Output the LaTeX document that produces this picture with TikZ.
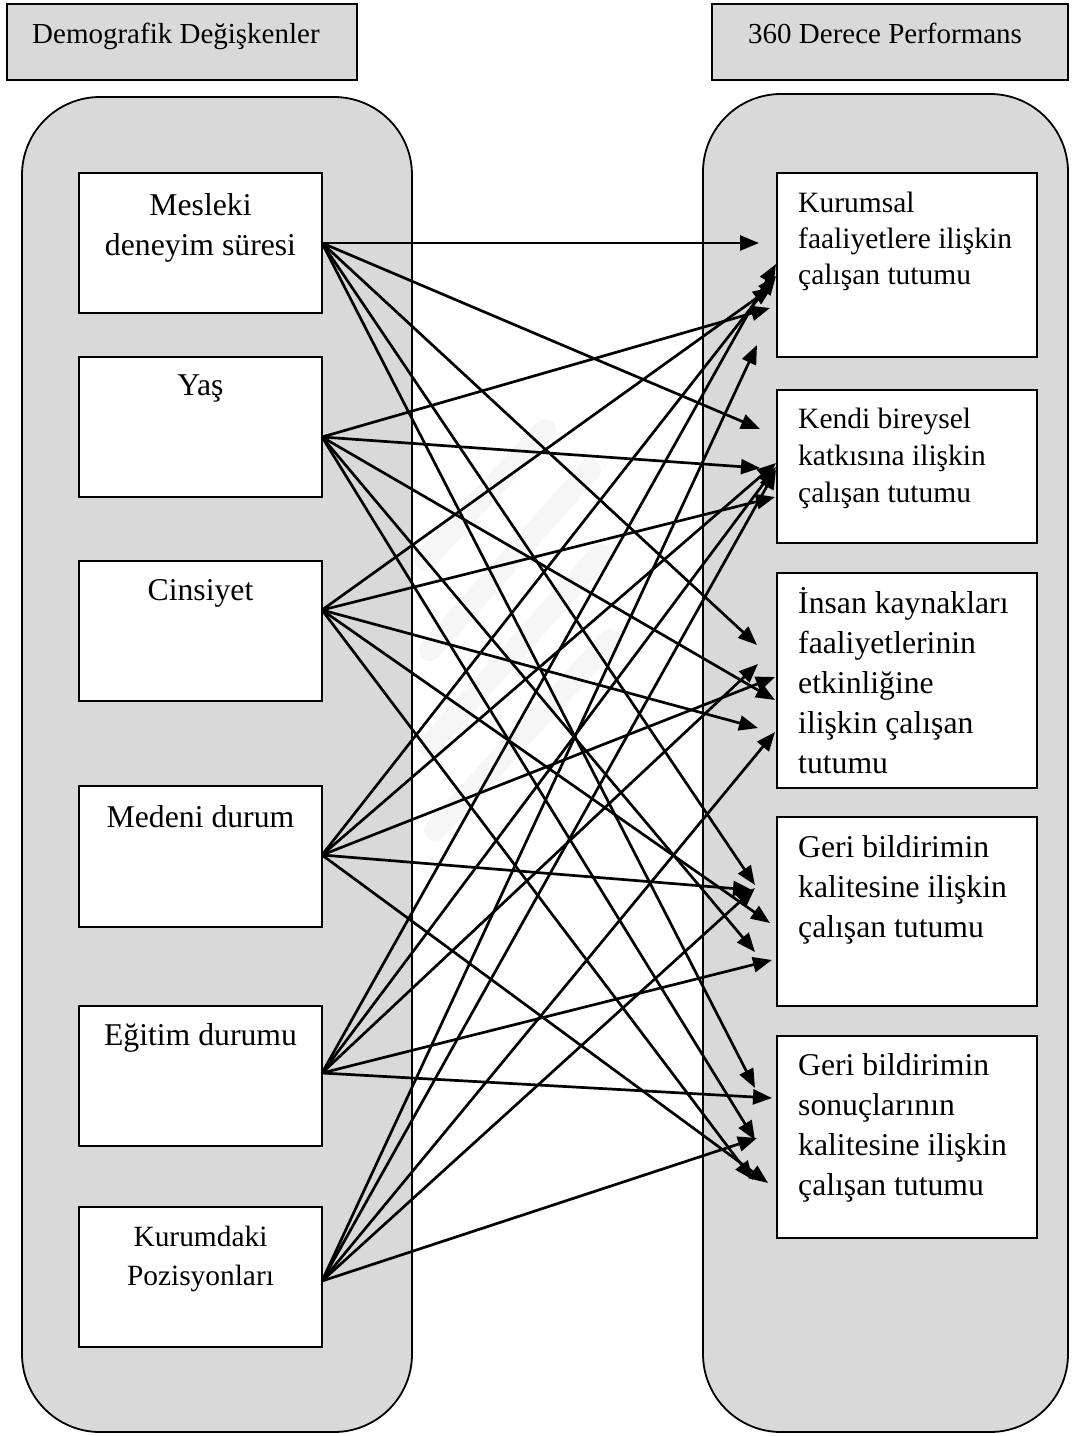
\documentclass[tikz,border=0pt]{standalone}
\usepackage{fontspec}
\setmainfont{Liberation Serif}
\usetikzlibrary{arrows.meta}
\definecolor{panelgray}{HTML}{D9D9D9}
\definecolor{wmgray}{HTML}{F6F6F6}
\begin{document}
\begin{tikzpicture}[x=1pt,y=-1pt,
  panel/.style={draw=black, line width=1.8pt, fill=panelgray, rounded corners=78pt},
  hdrbox/.style={draw=black, line width=1.8pt, fill=panelgray, inner sep=0pt},
  whitebox/.style={draw=black, line width=1.8pt, fill=white, inner sep=0pt},
  hdrtext/.style={inner sep=0pt, anchor=base west, font=\fontsize{29}{35}\selectfont},
  ltext/.style={inner sep=0pt, anchor=north, align=center, font=\fontsize{31.7}{40}\selectfont},
  rtext/.style={inner sep=0pt, anchor=north west, align=left},
  arr/.style={line width=2.7pt, -{Triangle[length=19pt,width=15pt]}},
  wmband/.style={draw=wmgray, line width=22pt, line cap=round}
]
\useasboundingbox (0,0) rectangle (1072,1436);
\fill[white] (0,0) rectangle (1072,1436);

% panels
\draw[panel] (22,97) rectangle (412,1432);
\draw[panel] (703,94) rectangle (1068,1432);

% faint watermark
\draw[wmband] (425,560) -- (545,430);
\draw[wmband] (430,650) -- (590,470);
\draw[wmband] (430,745) -- (600,555);
\draw[wmband] (435,830) -- (610,640);

% header boxes
\node[hdrbox, minimum width=350pt, minimum height=76pt] (H1) at (182,42) {};
\node[hdrbox, minimum width=356pt, minimum height=76pt] (H2) at (890,42) {};
\node[hdrtext] (H1t) at (32,43) {Demografik Değişkenler};
\node[hdrtext] (H2t) at (748,43) {360 Derece Performans};

% left boxes
\node[whitebox, minimum width=243pt, minimum height=140pt] (L1) at (200.5,243) {};
\node[whitebox, minimum width=243pt, minimum height=140pt] (L2) at (200.5,427) {};
\node[whitebox, minimum width=243pt, minimum height=140pt] (L3) at (200.5,631) {};
\node[whitebox, minimum width=243pt, minimum height=141pt] (L4) at (200.5,856.5) {};
\node[whitebox, minimum width=243pt, minimum height=140pt] (L5) at (200.5,1076) {};
\node[whitebox, minimum width=243pt, minimum height=140pt] (L6) at (200.5,1277) {};

\node[ltext] (L1t) at (200.5,187) {\strut Mesleki\\deneyim süresi};
\node[ltext] (L2t) at (200.5,367) {\strut Yaş};
\node[ltext] (L3t) at (200.5,572) {\strut Cinsiyet};
\node[ltext] (L4t) at (200.5,799) {\strut Medeni durum};
\node[ltext] (L5t) at (200.5,1017) {\strut Eğitim durumu};
\node[ltext, font=\fontsize{29.4}{39}\selectfont] (L6t) at (200.5,1218.7) {\strut Kurumdaki\\Pozisyonları};

% right boxes
\node[whitebox, minimum width=260pt, minimum height=184pt] (R1) at (907,265) {};
\node[whitebox, minimum width=260pt, minimum height=153pt] (R2) at (907,466.5) {};
\node[whitebox, minimum width=260pt, minimum height=215pt] (R3) at (907,680.5) {};
\node[whitebox, minimum width=260pt, minimum height=189pt] (R4) at (907,911.5) {};
\node[whitebox, minimum width=260pt, minimum height=202pt] (R5) at (907,1137) {};

\node[rtext, font=\fontsize{29.5}{36}\selectfont] (R1t) at (798,186.8) {\strut Kurumsal\\faaliyetlere ilişkin\\çalışan tutumu};
\node[rtext, font=\fontsize{29.5}{37}\selectfont] (R2t) at (798,402.1) {\strut Kendi bireysel\\katkısına ilişkin\\çalışan tutumu};
\node[rtext, font=\fontsize{31.7}{40}\selectfont] (R3t) at (798,585) {\strut İnsan kaynakları\\faaliyetlerinin\\etkinliğine\\ilişkin çalışan\\tutumu};
\node[rtext, font=\fontsize{31.7}{40}\selectfont] (R4t) at (798,829) {\strut Geri bildirimin\\kalitesine ilişkin\\çalışan tutumu};
\node[rtext, font=\fontsize{31.7}{40}\selectfont] (R5t) at (798,1047) {\strut Geri bildirimin\\sonuçlarının\\kalitesine ilişkin\\çalışan tutumu};

% sources
\coordinate (s1) at (322,243);
\coordinate (s2) at (322,437);
\coordinate (s3) at (322,610);
\coordinate (s4) at (322,855);
\coordinate (s5) at (322,1073);
\coordinate (s6) at (322,1281);

% tips: t<source><target>
\coordinate (t11) at (759,243);
\coordinate (t12) at (760,429);
\coordinate (t13) at (757,645);
\coordinate (t14) at (755,885);
\coordinate (t15) at (755,1088);
\coordinate (t21) at (770,308);
\coordinate (t22) at (760,468);
\coordinate (t23) at (775,700);
\coordinate (t24) at (755,952);
\coordinate (t25) at (755,1140);
\coordinate (t31) at (772,287);
\coordinate (t32) at (775,497);
\coordinate (t33) at (758,728);
\coordinate (t34) at (770,923);
\coordinate (t35) at (753,1180);
\coordinate (t41) at (776,276);
\coordinate (t42) at (776,463);
\coordinate (t43) at (775,677);
\coordinate (t44) at (752,890);
\coordinate (t45) at (768,1183);
\coordinate (t51) at (776,264);
\coordinate (t52) at (776,467);
\coordinate (t53) at (758,664);
\coordinate (t54) at (772,960);
\coordinate (t55) at (772,1098);
\coordinate (t61) at (757,345);
\coordinate (t62) at (776,470);
\coordinate (t63) at (775,732);
\coordinate (t64) at (755,888);
\coordinate (t65) at (757,1138);

\foreach \s in {1,...,6}{
  \foreach \t in {1,...,5}{
    \draw[arr] (s\s) -- (t\s\t);
  }
}
\end{tikzpicture}
\end{document}
